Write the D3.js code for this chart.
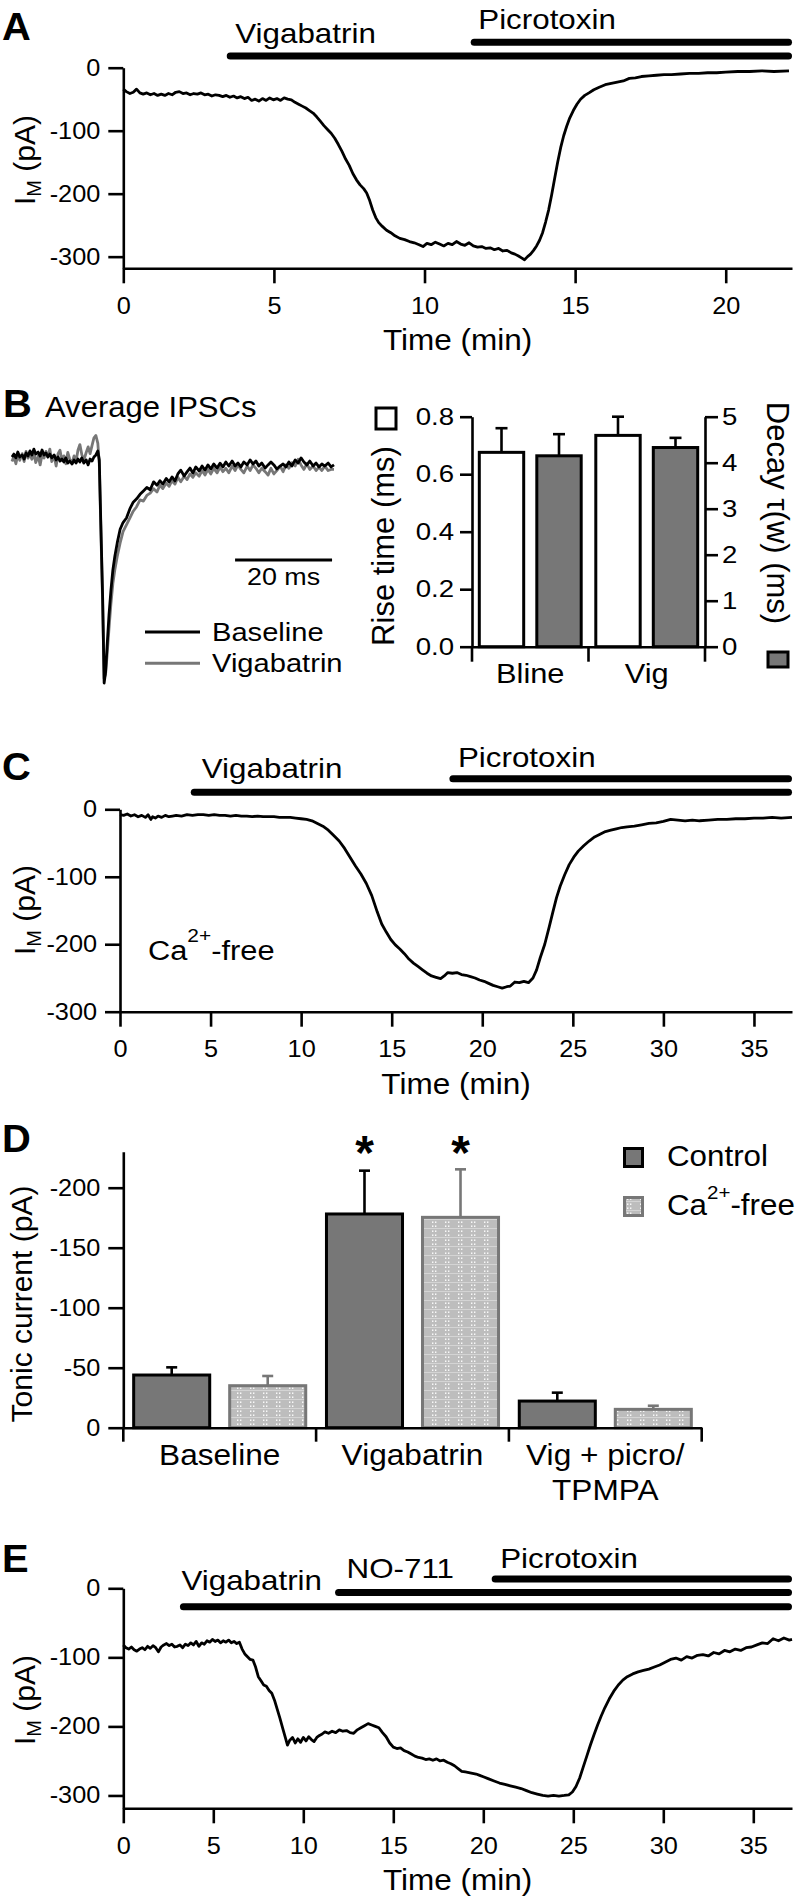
<!DOCTYPE html>
<html>
<head>
<meta charset="utf-8">
<script src="https://cdn.jsdelivr.net/npm/d3@7"></script>
<style>
body { margin: 0; background: #fff; }
svg { display: block; font-family: Arial, "Liberation Sans", Helvetica, sans-serif; }
</style>
</head>
<body>
<svg id="fig" width="798" height="1904"></svg>
<script>
// ---------- panel A: holding current, vigabatrin then picrotoxin ----------
const timeTicksA = [0, 5, 10, 15, 20];
const currentTicksA = [0, -100, -200, -300];
const drugsA = ["Vigabatrin", "Picrotoxin"];
const drugStartA = [3.55, 11.65];
const traceA = [
  [0.00,-34],[0.10,-38],[0.22,-41],[0.33,-39],[0.44,-34],[0.55,-40],[0.66,-42],[0.78,-40],[0.90,-43],[1.02,-41],
  [1.14,-44],[1.26,-42],[1.38,-44],[1.50,-41],[1.62,-43],[1.74,-39],[1.86,-38],[1.98,-41],[2.10,-40],[2.22,-43],
  [2.34,-41],[2.46,-42],[2.58,-40],[2.70,-43],[2.82,-42],[2.94,-45],[3.06,-43],[3.18,-44],[3.30,-46],[3.42,-44],
  [3.54,-47],[3.66,-45],[3.78,-48],[3.90,-46],[4.02,-49],[4.14,-47],[4.26,-52],[4.38,-50],[4.50,-53],[4.62,-49],
  [4.74,-52],[4.86,-48],[4.98,-51],[5.10,-49],[5.22,-52],[5.34,-48],[5.46,-50],[5.58,-51],[5.70,-55],[5.82,-58],
  [5.94,-61],[6.06,-64],[6.18,-68],[6.30,-72],[6.42,-78],[6.54,-85],[6.66,-92],[6.78,-98],[6.90,-104],[7.02,-112],
  [7.14,-122],[7.26,-133],[7.38,-145],[7.50,-155],[7.62,-168],[7.74,-178],[7.86,-186],[7.98,-192],[8.08,-199],[8.18,-211],
  [8.28,-226],[8.38,-238],[8.48,-246],[8.60,-252],[8.74,-258],[8.88,-262],[9.02,-267],[9.18,-271],[9.34,-273],[9.50,-276],
  [9.66,-278],[9.82,-281],[9.95,-284],[10.08,-279],[10.22,-281],[10.36,-277],[10.50,-280],[10.64,-283],[10.78,-279],[10.92,-281],
  [11.06,-276],[11.20,-280],[11.34,-282],[11.48,-278],[11.62,-283],[11.76,-285],[11.90,-284],[12.04,-287],[12.18,-286],[12.32,-289],
  [12.46,-287],[12.60,-291],[12.74,-290],[12.88,-294],[13.00,-296],[13.12,-299],[13.22,-302],[13.32,-305],[13.42,-300],[13.52,-296],
  [13.62,-290],[13.72,-283],[13.82,-274],[13.92,-262],[14.02,-245],[14.12,-226],[14.22,-202],[14.32,-176],[14.42,-150],[14.52,-127],
  [14.62,-108],[14.72,-93],[14.82,-80],[14.94,-68],[15.06,-58],[15.18,-50],[15.32,-44],[15.46,-40],[15.62,-35],[15.80,-31],
  [16.00,-27],[16.20,-25],[16.40,-23],[16.60,-21],[16.80,-17],[17.00,-16],[17.20,-14],[17.45,-13],[17.70,-12],[17.95,-11],
  [18.20,-11],[18.50,-10],[18.80,-9],[19.10,-9],[19.40,-8],[19.70,-8],[20.00,-7],[20.40,-6],[20.80,-6],[21.20,-5],
  [21.60,-6],[22.10,-5]
];

// ---------- panel B: average IPSCs (normalised amplitude, ms) ----------
const ipscLegend = ["Baseline", "Vigabatrin"];
const scaleBarMs = [46, 66];
const ipscBaseline = [
  [0.0,0],[0.4,1.3],[0.8,-0.4],[1.2,2.2],[1.6,0],[2.1,0.9],[2.5,-0.9],[2.9,1.8],[3.3,0.4],[3.7,2.7],
  [4.1,0.9],[4.5,3.5],[4.9,1.3],[5.4,2.2],[5.8,0.4],[6.2,3.1],[6.6,0.9],[7.0,1.8],[7.4,0],[7.8,1.3],
  [8.2,-0.4],[8.7,0.9],[9.1,-1.3],[9.5,0],[9.9,-1.8],[10.3,-0.9],[10.7,-2.2],[11.1,-0.4],[11.5,-2.7],[11.9,-1.8],
  [12.4,-3.1],[12.8,-1.3],[13.2,-2.7],[13.6,-0.9],[14.0,-2.2],[14.4,-0.4],[14.8,-2.7],[15.3,-1.3],[15.7,-3.5],[16.1,-0.9],
  [16.5,-1.8],[16.9,0],[17.3,0.9],[17.7,2.7],[18.0,-1.3],[18.3,-28],[18.7,-63],[19.0,-100],[19.3,-95],[19.6,-84],
  [20.0,-70],[20.4,-59],[20.8,-50],[21.2,-44],[21.7,-38],[22.3,-32],[22.9,-29],[23.6,-27],[24.3,-23],[25.0,-20],
  [25.7,-18.5],[26.4,-16.5],[27.1,-15],[27.8,-13.5],[28.5,-14.5],[29.2,-11],[29.9,-12.5],[30.5,-10.5],[31.1,-12],[31.8,-9.5],
  [32.4,-11],[33.0,-8.8],[33.6,-10.6],[34.2,-7.5],[34.8,-5.8],[35.5,-8.4],[36.1,-6.6],[36.7,-4.9],[37.3,-7.1],[37.9,-4.4],
  [38.6,-6.2],[39.2,-4.0],[39.8,-5.8],[40.4,-3.5],[41.0,-5.3],[41.6,-3.1],[42.3,-4.9],[42.9,-2.7],[43.5,-4.4],[44.1,-2.2],
  [44.7,-4.0],[45.4,-1.8],[46.0,-4.0],[46.6,-2.7],[47.2,-4.4],[47.8,-2.2],[48.5,-3.5],[49.1,-1.3],[49.7,-3.1],[50.3,-1.8],
  [50.9,-4.0],[51.5,-2.7],[52.2,-4.9],[52.8,-3.5],[53.4,-2.2],[54.0,-3.5],[54.6,-5.3],[55.3,-4.0],[55.9,-3.1],[56.5,-4.4],
  [57.1,-2.2],[57.7,-4.0],[58.4,-1.3],[59.0,-2.7],[59.6,-0.4],[60.2,-2.2],[60.8,-3.5],[61.4,-1.8],[62.1,-4.0],[62.7,-2.7],
  [63.3,-4.4],[63.9,-3.1],[64.5,-4.0],[65.2,-2.7],[65.8,-4.4],[66.4,-3.5]
];
const ipscVigabatrin = [
  [0.0,-2],[0.4,0.5],[0.8,-3],[1.2,1],[1.6,-1.5],[2.1,1.5],[2.5,-2],[2.9,2.5],[3.3,-0.5],[3.7,1.5],
  [4.1,-1],[4.5,2],[4.9,-2.5],[5.4,0.5],[5.8,-3.5],[6.2,1],[6.6,-0.5],[7.0,2.5],[7.4,0],[7.8,3.5],
  [8.2,-2],[8.7,0.5],[9.1,-4],[9.5,1.5],[9.9,3],[10.3,-1.5],[10.7,0.5],[11.1,-3],[11.5,2],[11.9,-1],
  [12.4,-2.5],[12.8,0.5],[13.2,-2],[13.6,3],[14.0,5.5],[14.4,1],[14.8,-1.5],[15.3,2],[15.7,4.5],[16.1,1.5],
  [16.5,5],[16.9,8.5],[17.3,9.5],[17.7,6],[18.0,-3],[18.3,-30],[18.7,-66],[19.0,-98],[19.3,-96],[19.6,-88],
  [20.0,-76],[20.4,-65],[20.8,-56],[21.2,-50],[21.7,-44],[22.3,-38],[22.9,-33],[23.6,-30],[24.3,-27],[25.0,-24],
  [25.7,-22],[26.4,-19],[27.1,-19.5],[27.8,-17],[28.5,-16],[29.2,-14],[29.9,-15.5],[30.5,-12.5],[31.1,-14],[31.8,-11.5],
  [32.4,-13],[33.0,-10.5],[33.6,-12],[34.2,-9],[34.8,-11],[35.5,-8.5],[36.1,-10],[36.7,-7.5],[37.3,-9],[37.9,-7],
  [38.6,-8.5],[39.2,-6],[39.8,-8],[40.4,-5.5],[41.0,-7.5],[41.6,-5],[42.3,-7],[42.9,-4.5],[43.5,-6.5],[44.1,-5],
  [44.7,-7],[45.4,-4],[46.0,-6],[46.6,-3.5],[47.2,-5.5],[47.8,-7],[48.5,-4],[49.1,-6],[49.7,-3.5],[50.3,-5],
  [50.9,-7],[51.5,-5],[52.2,-6.5],[52.8,-8],[53.4,-5],[54.0,-7.5],[54.6,-6],[55.3,-4],[55.9,-6.5],[56.5,-3.5],
  [57.1,-5],[57.7,-2.5],[58.4,-4],[59.0,-1],[59.6,-3.5],[60.2,-5.5],[60.8,-3],[61.4,-5.5],[62.1,-4],[62.7,-6],
  [63.3,-4.5],[63.9,-6],[64.5,-4],[65.2,-6],[65.8,-5.5],[66.4,-5.5]
];

// ---------- panel B: kinetics bars ----------
const kineticsGroups = ["Bline", "Vig"];
const riseTime = [0.676, 0.735];
const riseTimeSem = [0.084, 0.065];
const decayTau = [4.15, 4.33];
const decayTauSem = [0.47, 0.21];
const riseTicks = [0, 0.2, 0.4, 0.6, 0.8];
const decayTicks = [0, 1, 2, 3, 4, 5];

// ---------- panel C: Ca2+-free ----------
const timeTicksC = [0, 5, 10, 15, 20, 25, 30, 35];
const currentTicksC = [0, -100, -200, -300];
const drugsC = ["Vigabatrin", "Picrotoxin"];
const drugStartC = [4.1, 18.38];
const traceC = [
  [0.0,-8],[0.2,-9],[0.4,-7],[0.6,-10],[0.8,-8],[1.0,-11],[1.2,-9],[1.4,-12],[1.55,-8],[1.7,-15],
  [1.8,-11],[1.95,-13],[2.1,-10],[2.3,-12],[2.5,-9],[2.7,-11],[2.9,-10],[3.1,-9],[3.4,-10],[3.7,-8],
  [4.0,-9],[4.3,-8],[4.6,-8],[4.9,-9],[5.2,-8],[5.5,-9],[5.8,-9],[6.1,-10],[6.4,-9],[6.7,-10],
  [7.0,-10],[7.3,-11],[7.6,-10],[7.9,-11],[8.2,-11],[8.5,-11],[8.8,-12],[9.1,-12],[9.4,-12],[9.7,-13],
  [10.0,-14],[10.3,-15],[10.6,-17],[10.9,-21],[11.2,-25],[11.5,-31],[11.8,-39],[12.1,-47],[12.4,-58],[12.7,-71],
  [13.0,-84],[13.3,-96],[13.6,-110],[13.9,-128],[14.2,-152],[14.45,-170],[14.7,-182],[14.95,-193],[15.2,-201],[15.45,-207],
  [15.7,-214],[15.95,-222],[16.2,-228],[16.45,-233],[16.7,-238],[16.95,-243],[17.2,-247],[17.45,-249],[17.7,-251],[17.9,-247],
  [18.1,-242],[18.35,-243],[18.6,-242],[18.85,-245],[19.1,-246],[19.35,-248],[19.6,-250],[19.85,-253],[20.1,-255],[20.35,-258],
  [20.6,-261],[20.85,-263],[21.1,-265],[21.35,-263],[21.55,-262],[21.8,-256],[22.05,-257],[22.3,-255],[22.55,-257],[22.8,-250],
  [23.0,-238],[23.2,-220],[23.45,-200],[23.7,-174],[23.9,-152],[24.1,-131],[24.3,-114],[24.55,-97],[24.8,-82],[25.05,-71],
  [25.3,-62],[25.6,-54],[25.9,-47],[26.2,-41],[26.5,-37],[26.8,-33],[27.1,-31],[27.4,-29],[27.7,-27],[28.0,-26],
  [28.4,-25],[28.8,-23],[29.2,-21],[29.6,-20],[30.0,-18],[30.4,-15],[30.8,-16],[31.2,-17],[31.6,-16],[32.0,-17],
  [32.5,-16],[33.0,-15],[33.5,-15],[34.0,-14],[34.5,-14],[35.0,-13],[35.5,-13],[36.0,-12],[36.5,-13],[37.1,-12]
];

// ---------- panel D: tonic current ----------
const tonicGroups = ["Baseline", "Vigabatrin", "Vig + picro/TPMPA"];
const tonicGroupLines = [["Baseline"], ["Vigabatrin"], ["Vig + picro/", "TPMPA"]];
const tonicSeries = ["Control", "Ca2+-free"];
const tonicControl = [-43.9, -178.1, -22.2];
const tonicControlSem = [6.4, 36.1, 7.0];
const tonicCaFree = [-35.0, -175.3, -15.3];
const tonicCaFreeSem = [8.1, 40.0, 3.0];
const tonicSignificant = [false, true, false];
const tonicTicks = [0, -50, -100, -150, -200];

// ---------- panel E: NO-711 ----------
const timeTicksE = [0, 5, 10, 15, 20, 25, 30, 35];
const currentTicksE = [0, -100, -200, -300];
const drugsE = ["Vigabatrin", "NO-711", "Picrotoxin"];
const drugStartE = [3.34, 11.96, 20.66];
const traceE = [
  [0.0,-82],[0.15,-86],[0.3,-88],[0.45,-85],[0.6,-89],[0.75,-91],[0.9,-88],[1.05,-86],[1.2,-89],[1.35,-84],
  [1.5,-87],[1.65,-83],[1.8,-86],[1.95,-92],[2.1,-85],[2.25,-82],[2.4,-80],[2.55,-83],[2.7,-81],[2.85,-85],
  [3.0,-84],[3.15,-82],[3.3,-86],[3.45,-81],[3.6,-83],[3.75,-79],[3.9,-82],[4.05,-77],[4.2,-84],[4.35,-79],
  [4.5,-81],[4.65,-76],[4.8,-78],[4.95,-74],[5.1,-77],[5.25,-75],[5.4,-79],[5.55,-76],[5.7,-78],[5.85,-75],
  [6.0,-79],[6.15,-77],[6.3,-80],[6.45,-78],[6.6,-88],[6.75,-95],[6.9,-99],[7.05,-103],[7.2,-104],[7.35,-114],
  [7.5,-128],[7.65,-134],[7.8,-140],[7.95,-142],[8.1,-148],[8.25,-152],[8.4,-162],[8.55,-175],[8.7,-188],[8.85,-202],
  [9.0,-216],[9.12,-227],[9.25,-220],[9.4,-216],[9.55,-224],[9.7,-218],[9.85,-223],[10.0,-216],[10.15,-221],[10.3,-215],
  [10.45,-219],[10.6,-222],[10.75,-216],[10.9,-213],[11.05,-211],[11.2,-208],[11.4,-210],[11.6,-207],[11.8,-209],[12.0,-205],
  [12.2,-207],[12.4,-206],[12.6,-209],[12.8,-210],[13.0,-205],[13.2,-202],[13.4,-199],[13.6,-196],[13.8,-198],[14.0,-200],
  [14.2,-202],[14.4,-209],[14.6,-215],[14.8,-224],[15.0,-230],[15.2,-232],[15.4,-231],[15.6,-235],[15.8,-237],[16.0,-240],
  [16.2,-243],[16.4,-245],[16.6,-246],[16.8,-248],[17.0,-247],[17.2,-249],[17.4,-247],[17.6,-250],[17.8,-249],[18.0,-252],
  [18.2,-254],[18.4,-257],[18.6,-261],[18.8,-265],[19.0,-266],[19.2,-267],[19.4,-268],[19.6,-269],[19.8,-271],[20.0,-273],
  [20.3,-276],[20.6,-279],[20.9,-282],[21.2,-284],[21.5,-286],[21.8,-288],[22.1,-290],[22.4,-293],[22.7,-296],[23.0,-298],
  [23.3,-300],[23.6,-301],[23.9,-300],[24.2,-301],[24.5,-300],[24.75,-299],[24.95,-295],[25.15,-287],[25.35,-275],[25.55,-259],
  [25.75,-243],[25.95,-227],[26.15,-212],[26.35,-198],[26.55,-185],[26.75,-173],[27.0,-160],[27.25,-149],[27.5,-140],[27.75,-133],
  [28.0,-128],[28.3,-124],[28.6,-121],[28.9,-119],[29.2,-117],[29.5,-114],[29.8,-111],[30.1,-107],[30.4,-103],[30.7,-101],
  [31.0,-104],[31.3,-99],[31.6,-101],[31.9,-97],[32.2,-96],[32.5,-98],[32.8,-93],[33.1,-95],[33.4,-90],[33.7,-92],
  [34.0,-88],[34.3,-90],[34.6,-86],[34.9,-85],[35.2,-82],[35.5,-79],[35.8,-80],[36.1,-73],[36.4,-76],[36.7,-72],
  [37.0,-75],[37.15,-74]
];

// ---------- drawing ----------
const FONT = "Arial, 'Liberation Sans', Helvetica, sans-serif";
const GREY = "#777";
const svg = d3.select("#fig");
svg.append("rect").attr("width", 798).attr("height", 1904).attr("fill", "#fff");

// dotted fill used by the Ca2+-free bars
const pat = svg.append("defs").append("pattern")
  .attr("id", "dots").attr("patternUnits", "userSpaceOnUse")
  .attr("width", 26).attr("height", 9);
pat.append("rect").attr("width", 26).attr("height", 9).attr("fill", "#bdbdbd");
pat.append("rect").attr("y", 4).attr("width", 26).attr("height", 0.7).attr("fill", "#dedede");
[[3,1.5],[6,1.5],[16,1.5],[19,1.5],[3,6.5],[6,6.5],[16,6.5],[19,6.5]].forEach(p =>
  pat.append("rect").attr("x", p[0]).attr("y", p[1]).attr("width", 1.4).attr("height", 1.4).attr("fill", "#fff"));

function label(g, x, y, s, size, o = {}) {
  return g.append("text")
    .attr("transform", `translate(${x},${y}) scale(${o.sx ?? 1.1},1)`)
    .attr("font-size", size)
    .attr("font-weight", o.weight || null)
    .attr("text-anchor", o.anchor || "start")
    .attr("fill", o.fill || "#000")
    .text(s);
}

function styleAxis(a, size, sx) {
  a.attr("font-family", FONT);
  a.selectAll(".domain, .tick line").attr("stroke", "#000").attr("stroke-width", 2.6);
  a.selectAll("text").attr("font-size", size).attr("fill", "#000").each(function () {
    const t = d3.select(this);
    t.attr("x", (+t.attr("x") || 0) / sx).attr("transform", `scale(${sx},1)`);
  });
}

function currentTitle(g, x, y) {
  const t = g.append("text").attr("transform", `translate(${x},${y}) rotate(-90)`)
    .attr("font-size", 30).attr("text-anchor", "middle");
  t.append("tspan").text("I");
  t.append("tspan").attr("font-size", 20).attr("dy", 6).text("M");
  t.append("tspan").attr("dy", -6).text(" (pA)");
}

function tracePanel(p) {
  const g = svg.append("g");
  const x = d3.scaleLinear().domain([0, p.tMax]).range([p.left, 792]);
  const y = d3.scaleLinear().domain([0, p.vMin]).range([p.top, p.bottom]);

  g.append("g").attr("transform", `translate(${p.left},0)`)
    .call(d3.axisLeft(y).tickValues(p.yTicks).tickFormat(d => String(d))
      .tickSize(15).tickPadding(8).tickSizeOuter(0))
    .call(a => styleAxis(a, 23, 1.1));
  g.append("g").attr("transform", `translate(0,${p.bottom})`)
    .call(d3.axisBottom(x).tickValues(p.xTicks).tickSize(15).tickPadding(14).tickSizeOuter(0))
    .call(a => styleAxis(a, 23, 1.1));

  g.append("path").datum(p.trace)
    .attr("fill", "none").attr("stroke", "#000").attr("stroke-width", 2.8)
    .attr("stroke-linejoin", "round")
    .attr("d", d3.line().x(d => x(d[0])).y(d => y(d[1])));

  p.drugs.forEach((name, i) => {
    g.append("line")
      .attr("x1", x(p.starts[i])).attr("x2", x.range()[1] - 3.5)
      .attr("y1", p.barY[i]).attr("y2", p.barY[i])
      .attr("stroke", "#000").attr("stroke-width", 7).attr("stroke-linecap", "round");
    label(g, x(p.starts[i]) + p.labelDx[i], p.labelY[i], name, 28, { sx: 1.12 });
  });

  label(g, (p.left + 792) / 2, p.bottom + 82, "Time (min)", 30, { anchor: "middle", sx: 1.05 });
  currentTitle(g, 35, p.titleY);
  label(g, 2, p.letterY, p.letter, 38, { weight: "bold", sx: 1.05 });
  return g;
}

// panel A
tracePanel({
  letter: "A", letterY: 40, left: 123.3, tMax: 22.2, vMin: -318.5, top: 67.7, bottom: 268.3,
  xTicks: timeTicksA, yTicks: currentTicksA, trace: traceA,
  drugs: drugsA, starts: drugStartA, barY: [56, 42.3], labelDx: [5, 4], labelY: [42.7, 29.3],
  titleY: 160
});

// panel B - traces
const gB = svg.append("g");
label(gB, 3, 417, "B", 38, { weight: "bold", sx: 1.05 });
label(gB, 45, 417, "Average IPSCs", 29, { sx: 1.07 });
const xT = d3.scaleLinear().domain([0, 66.4]).range([12, 334]);
const yT = d3.scaleLinear().domain([0, -100]).range([457, 683]);
const ipscLine = d3.line().x(d => xT(d[0])).y(d => yT(d[1]));
[[ipscVigabatrin, GREY], [ipscBaseline, "#000"]].forEach(([tr, col]) =>
  gB.append("path").datum(tr).attr("fill", "none").attr("stroke", col)
    .attr("stroke-width", 2.8).attr("stroke-linejoin", "round").attr("d", ipscLine));
gB.append("line").attr("x1", xT(scaleBarMs[0])).attr("x2", xT(scaleBarMs[1]))
  .attr("y1", 560).attr("y2", 560).attr("stroke", "#000").attr("stroke-width", 3);
label(gB, (xT(scaleBarMs[0]) + xT(scaleBarMs[1])) / 2, 585,
  (scaleBarMs[1] - scaleBarMs[0]) + " ms", 24, { anchor: "middle", sx: 1.12 });
ipscLegend.forEach((name, i) => {
  const ly = [632, 663.3][i];
  gB.append("line").attr("x1", 145).attr("x2", 200).attr("y1", ly).attr("y2", ly)
    .attr("stroke", i === 0 ? "#000" : GREY).attr("stroke-width", 3);
  label(gB, 212, ly + 8.5, name, 26, { sx: 1.12 });
});

// panel B - kinetics bars
const gK = svg.append("g");
const xK = d3.scaleBand().domain(kineticsGroups).range([472, 705]);
const xKs = d3.scaleBand().domain(["rise", "decay"]).range([0, xK.bandwidth()])
  .paddingInner(0.228).paddingOuter(0.127);
const yRise = d3.scaleLinear().domain([0, 0.8]).range([646.7, 416.7]);
const yDecay = d3.scaleLinear().domain([0, 5]).range([646.7, 416.7]);

kineticsGroups.forEach((grp, i) => {
  [["rise", yRise, riseTime[i], riseTimeSem[i], "#fff"],
   ["decay", yDecay, decayTau[i], decayTauSem[i], GREY]].forEach(([k, ys, v, sem, fill]) => {
    const bx = xK(grp) + xKs(k), bw = xKs.bandwidth(), cx = bx + bw / 2;
    gK.append("line").attr("x1", cx).attr("x2", cx).attr("y1", ys(v)).attr("y2", ys(v + sem))
      .attr("stroke", "#000").attr("stroke-width", 2.6);
    gK.append("line").attr("x1", cx - 6).attr("x2", cx + 6).attr("y1", ys(v + sem)).attr("y2", ys(v + sem))
      .attr("stroke", "#000").attr("stroke-width", 2.6);
    gK.append("rect").attr("x", bx).attr("y", ys(v)).attr("width", bw).attr("height", ys(0) - ys(v))
      .attr("fill", fill).attr("stroke", "#000").attr("stroke-width", 3);
  });
});
gK.append("g").attr("transform", "translate(472,0)")
  .call(d3.axisLeft(yRise).tickValues(riseTicks).tickFormat(d3.format(".1f"))
    .tickSize(12).tickPadding(6).tickSizeOuter(0))
  .call(a => styleAxis(a, 23, 1.2));
gK.append("g").attr("transform", "translate(705,0)")
  .call(d3.axisRight(yDecay).tickValues(decayTicks).tickFormat(d3.format("d"))
    .tickSize(13).tickPadding(4).tickSizeOuter(0))
  .call(a => styleAxis(a, 23, 1.2));
gK.append("g").attr("transform", "translate(0,646.7)")
  .call(d3.axisBottom(xK).tickSize(0).tickPadding(16).tickSizeOuter(0))
  .call(a => styleAxis(a, 28, 1.1));
kineticsGroups.map(c => xK(c)).concat([xK.range()[1]]).forEach(bx =>
  gK.append("line").attr("x1", bx).attr("x2", bx).attr("y1", 646.7).attr("y2", 661.7)
    .attr("stroke", "#000").attr("stroke-width", 2.6));
gK.append("text").attr("transform", "translate(394,546) rotate(-90)")
  .attr("font-size", 31).attr("text-anchor", "middle").text("Rise time (ms)");
gK.append("rect").attr("x", 376).attr("y", 408).attr("width", 20).attr("height", 21)
  .attr("fill", "#fff").attr("stroke", "#000").attr("stroke-width", 3);
gK.append("text").attr("transform", "translate(767,513) rotate(90)")
  .attr("font-size", 31).attr("text-anchor", "middle").text("Decay \u03c4(w) (ms)");
gK.append("rect").attr("x", 768).attr("y", 652).attr("width", 20).attr("height", 15)
  .attr("fill", GREY).attr("stroke", "#000").attr("stroke-width", 3);

// panel C
const gC = tracePanel({
  letter: "C", letterY: 780, left: 120, tMax: 37.1, vMin: -300, top: 809.3, bottom: 1011.7,
  xTicks: timeTicksC, yTicks: currentTicksC, trace: traceC,
  drugs: drugsC, starts: drugStartC, barY: [792.3, 778.7], labelDx: [7.5, 5], labelY: [778.3, 766.7],
  titleY: 910
});
const caC = gC.append("text").attr("transform", "translate(148,960) scale(1.1,1)").attr("font-size", 28);
caC.append("tspan").text("Ca");
caC.append("tspan").attr("font-size", 19).attr("dy", -18).text("2+");
caC.append("tspan").attr("dy", 18).text("-free");

// panel D
const gD = svg.append("g");
label(gD, 2, 1152, "D", 38, { weight: "bold", sx: 1.05 });
const xD = d3.scaleBand().domain(tonicGroups).range([123.3, 701.7]);
const xDs = d3.scaleBand().domain(tonicSeries).range([0, xD.bandwidth()])
  .paddingInner(0.208).paddingOuter(0.108);
const yD = d3.scaleLinear().domain([0, -230]).range([1427.7, 1151.7]);
const tonicStyle = {
  "Control": { mean: tonicControl, sem: tonicControlSem, fill: GREY, stroke: "#000" },
  "Ca2+-free": { mean: tonicCaFree, sem: tonicCaFreeSem, fill: "url(#dots)", stroke: GREY }
};
tonicGroups.forEach((grp, i) => {
  tonicSeries.forEach(s => {
    const st = tonicStyle[s];
    const v = st.mean[i], top = v - st.sem[i];
    const bx = xD(grp) + xDs(s), bw = xDs.bandwidth(), cx = bx + bw / 2;
    gD.append("line").attr("x1", cx).attr("x2", cx).attr("y1", yD(v)).attr("y2", yD(top))
      .attr("stroke", st.stroke).attr("stroke-width", 2.6);
    gD.append("line").attr("x1", cx - 5.5).attr("x2", cx + 5.5).attr("y1", yD(top)).attr("y2", yD(top))
      .attr("stroke", st.stroke).attr("stroke-width", 2.6);
    gD.append("rect").attr("x", bx).attr("y", yD(v)).attr("width", bw).attr("height", yD(0) - yD(v))
      .attr("fill", st.fill).attr("stroke", st.stroke).attr("stroke-width", 3);
    if (tonicSignificant[i]) label(gD, cx, 1169, "*", 48, { anchor: "middle", weight: "bold", sx: 1 });
  });
});
gD.append("g").attr("transform", "translate(123.3,0)")
  .call(d3.axisLeft(yD).tickValues(tonicTicks).tickFormat(d => String(d))
    .tickSize(15).tickPadding(8).tickSizeOuter(0))
  .call(a => styleAxis(a, 23, 1.1));
gD.append("g").attr("transform", "translate(0,1427.7)")
  .call(d3.axisBottom(xD).tickSize(0).tickPadding(17).tickSizeOuter(0))
  .call(a => styleAxis(a, 29, 1.09))
  .call(a => a.selectAll(".tick text").each(function (d) {
    const t = d3.select(this).attr("dy", null).text(null);
    tonicGroupLines[tonicGroups.indexOf(d)].forEach((ln, j) =>
      t.append("tspan").attr("x", 0).attr("dy", j === 0 ? "0.71em" : "1.2em").text(ln));
  }));
tonicGroups.map(c => xD(c)).concat([xD.range()[1]]).forEach(bx =>
  gD.append("line").attr("x1", bx).attr("x2", bx).attr("y1", 1427.7).attr("y2", 1441.7)
    .attr("stroke", "#000").attr("stroke-width", 2.6));
gD.append("text").attr("transform", "translate(32,1304) rotate(-90)")
  .attr("font-size", 30).attr("text-anchor", "middle").text("Tonic current (pA)");
tonicSeries.forEach((s, i) => {
  const st = tonicStyle[s], ly = [1148.5, 1197.5][i];
  gD.append("rect").attr("x", 624.5).attr("y", ly).attr("width", 18).attr("height", 18)
    .attr("fill", st.fill).attr("stroke", st.stroke).attr("stroke-width", 3);
  const t = gD.append("text").attr("transform", `translate(667,${ly + 17}) scale(1.08,1)`).attr("font-size", 29);
  if (s === "Ca2+-free") {
    t.append("tspan").text("Ca");
    t.append("tspan").attr("font-size", 19).attr("dy", -16).text("2+");
    t.append("tspan").attr("dy", 16).text("-free");
  } else {
    t.text(s);
  }
});

// panel E
tracePanel({
  letter: "E", letterY: 1572, left: 123.3, tMax: 37.15, vMin: -318.6, top: 1588.3, bottom: 1808.3,
  xTicks: timeTicksE, yTicks: currentTicksE, trace: traceE,
  drugs: drugsE, starts: drugStartE, barY: [1606.7, 1592.5, 1579], labelDx: [-2, 8, 5],
  labelY: [1590, 1578, 1568.3],
  titleY: 1700
});
</script>
</body>
</html>
